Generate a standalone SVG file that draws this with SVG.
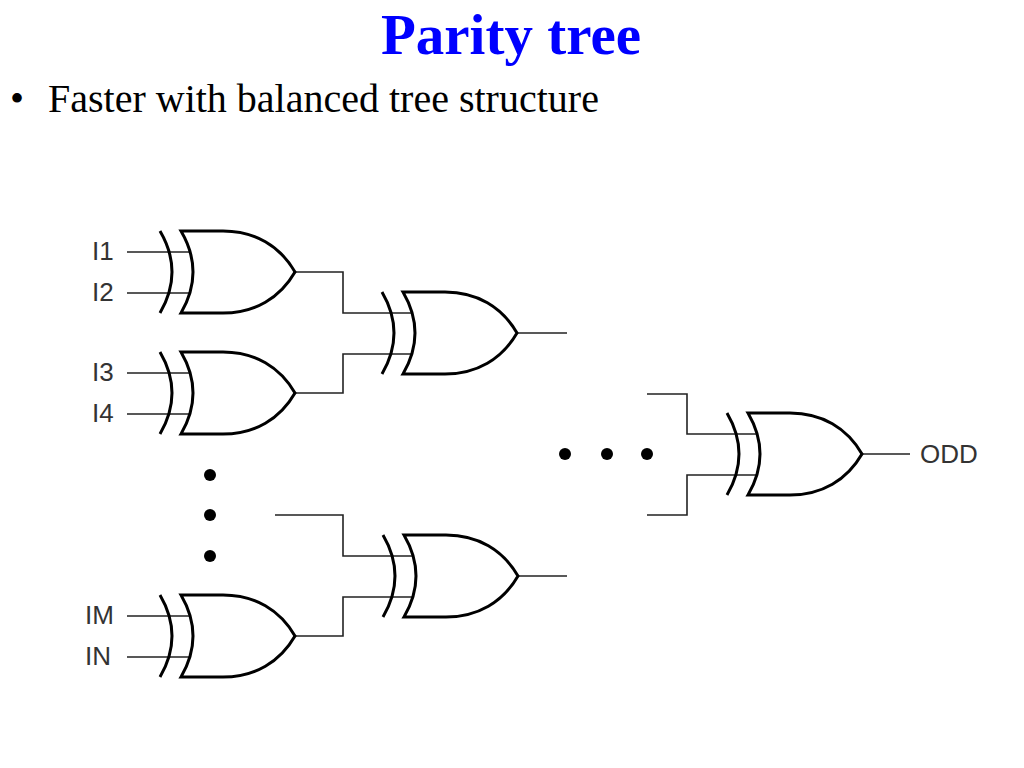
<svg xmlns="http://www.w3.org/2000/svg" xmlns:xlink="http://www.w3.org/1999/xlink" width="1024" height="768" viewBox="0 0 1024 768">
<style>
.title{font-family:"Liberation Serif","Times New Roman",serif;font-weight:bold;font-size:57px;fill:#0000ff}
.bullet{font-family:"Liberation Serif","Times New Roman",serif;font-size:40px;fill:#000}
.lbl{font-family:"Liberation Sans",Arial,sans-serif;font-size:26px;fill:#333}
.wire{stroke:#222;stroke-width:1.6;fill:none}
.garc{stroke:#000;stroke-width:3;fill:none}
.gbody{stroke:#000;stroke-width:3;fill:#fff;stroke-linejoin:miter}
.dot{fill:#000}
</style>
<defs>
<g id="xor">
<path class="garc" d="M0,0 Q24,41 0,82"/>
<path class="gbody" d="M21,0 L63,0 C95,0 120,15 135,41 C120,67 95,82 63,82 L21,82 Q45,41 21,0 Z"/>
</g>
</defs>
<rect width="1024" height="768" fill="#fff"/>
<text class="title" x="511" y="54" text-anchor="middle">Parity tree</text>
<text class="bullet" x="10" y="112">•</text>
<text class="bullet" x="48" y="112">Faster with balanced tree structure</text>

<g id="connectors">
<path class="wire" d="M127,252 H190 M127,293 H190"/>
<path class="wire" d="M127,373 H190 M127,414 H190"/>
<path class="wire" d="M127,616 H190 M127,657 H190"/>
<path class="wire" d="M295,272 H343 V313 H412"/>
<path class="wire" d="M295,393 H343 V354 H412"/>
<path class="wire" d="M517,333 H567"/>
<path class="wire" d="M275,515 H343 V556 H413"/>
<path class="wire" d="M295,636 H343 V597 H413"/>
<path class="wire" d="M518,576 H567"/>
<path class="wire" d="M647,394 H687 V434 H757"/>
<path class="wire" d="M647,515 H687 V475 H757"/>
<path class="wire" d="M862,454 H910"/>
</g>

<g id="gate1"><use xlink:href="#xor" href="#xor" x="160" y="231"/></g>
<g id="gate2"><use xlink:href="#xor" href="#xor" x="160" y="352"/></g>
<g id="gate3"><use xlink:href="#xor" href="#xor" x="160" y="595"/></g>
<g id="gate4"><use xlink:href="#xor" href="#xor" x="382" y="292"/></g>
<g id="gate5"><use xlink:href="#xor" href="#xor" x="383" y="535"/></g>
<g id="gate6"><use xlink:href="#xor" href="#xor" x="727" y="413"/></g>

<g id="labels">
<text class="lbl" x="92" y="260">I1</text>
<text class="lbl" x="92" y="301">I2</text>
<text class="lbl" x="92" y="381">I3</text>
<text class="lbl" x="92" y="422">I4</text>
<text class="lbl" x="85" y="624">IM</text>
<text class="lbl" x="85" y="665">IN</text>
<text class="lbl" x="920" y="463">ODD</text>
</g>

<g id="dots">
<circle class="dot" cx="210" cy="475" r="6"/>
<circle class="dot" cx="210" cy="515" r="6"/>
<circle class="dot" cx="210" cy="556" r="6"/>
<circle class="dot" cx="565" cy="454" r="6"/>
<circle class="dot" cx="607" cy="454" r="6"/>
<circle class="dot" cx="647" cy="454" r="6"/>
</g>
</svg>
